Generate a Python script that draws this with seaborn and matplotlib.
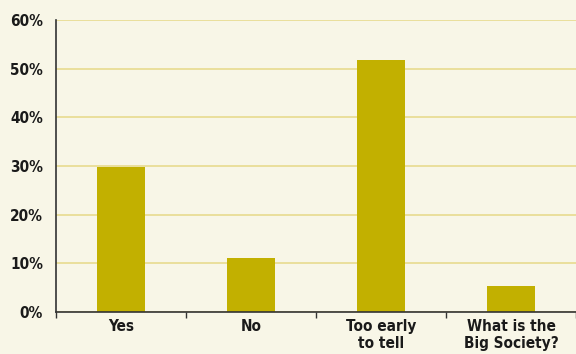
import matplotlib
matplotlib.use("Agg")
import matplotlib.pyplot as plt
import seaborn as sns
import pandas as pd

categories = ["Yes", "No", "Too early\nto tell", "What is the\nBig Society?"]
shares = [29.8, 11.1, 51.8, 5.4]
y_ticks = [0, 10, 20, 30, 40, 50, 60]
y_tick_labels = ["0%", "10%", "20%", "30%", "40%", "50%", "60%"]

bg = "#f8f6e7"
bar_color = "#c2b000"
grid_color = "#e9dd96"
ink = "#1a1a1a"

sns.set_theme(style="white")
plt.rcParams["font.family"] = ["DejaVu Sans"]
plt.rcParams["font.stretch"] = "condensed"

df = pd.DataFrame({"answer": categories, "share": shares})

fig = plt.figure(figsize=(5.76, 3.54), dpi=100, facecolor=bg)
ax = fig.add_axes([56 / 576, 1 - 312 / 354, 1 - 56 / 576, 292 / 354])
ax.set_facecolor(bg)

sns.barplot(data=df, x="answer", y="share", order=categories, color=bar_color,
            saturation=1, width=0.37, linewidth=0, ax=ax, zorder=3)

ax.set_ylim(0, 60)
ax.set_xlim(-0.5, len(categories) - 0.5)
ax.set_yticks(y_ticks)
ax.set_yticklabels(y_tick_labels)
ax.yaxis.grid(True, color=grid_color, linewidth=1.3, zorder=0)
ax.set_axisbelow(True)

# category boundaries as the x tick marks
ax.set_xticks([i - 0.5 for i in range(len(categories) + 1)], minor=True)
ax.tick_params(axis="x", which="minor", length=4, width=1, color="#333333",
               direction="out", bottom=True)
ax.tick_params(axis="x", which="major", length=0, pad=5, labelsize=11,
               labelcolor=ink)
ax.tick_params(axis="y", which="major", length=5.8, width=1.3, color=grid_color,
               pad=3.5, labelsize=11, labelcolor=ink)
for lbl in ax.get_xticklabels() + ax.get_yticklabels():
    lbl.set_fontweight("bold")
    lbl.set_fontstretch("condensed")
for lbl in ax.get_xticklabels():
    lbl.set_linespacing(1.15)

for side in ("top", "right"):
    ax.spines[side].set_visible(False)
for side in ("left", "bottom"):
    ax.spines[side].set_color("#333333")
    ax.spines[side].set_linewidth(1.2)
    ax.spines[side].set_zorder(4)

ax.set_xlabel("")
ax.set_ylabel("")

fig.savefig("out.png", dpi=100, facecolor=bg)
